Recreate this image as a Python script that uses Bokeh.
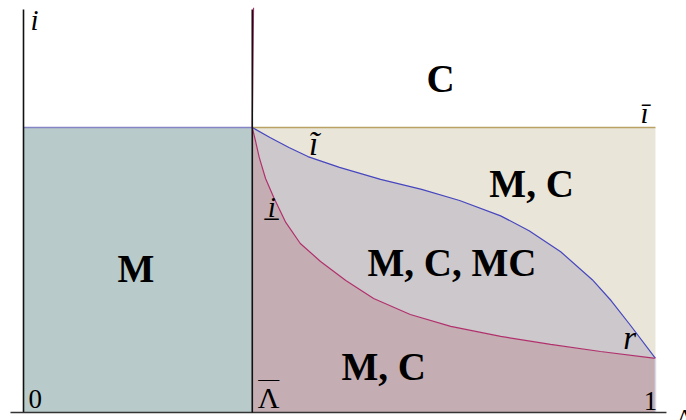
from bokeh.plotting import figure
from bokeh.models import Range1d
from bokeh.core.properties import value
from bokeh.embed import file_html
from bokeh.resources import INLINE

# Parameter space (Lambda, i)
lam_bar = 0.362      # threshold Lambda-bar
i_bar = 1.0          # upper bound i-bar
r_val = 0.19         # point r where both boundaries meet at Lambda = 1

# Upper boundary i-tilde(Lambda)
lam_tilde = [0.362, 0.39, 0.42, 0.45, 0.50, 0.565, 0.63, 0.69, 0.755,
             0.80, 0.85, 0.90, 0.93, 0.96, 1.0]
i_tilde = [1.0, 0.965, 0.93, 0.898, 0.86, 0.818, 0.783, 0.744, 0.690,
           0.638, 0.564, 0.466, 0.392, 0.307, 0.19]

# Lower boundary i-underbar(Lambda)
lam_under = [0.362, 0.367, 0.373, 0.383, 0.396, 0.415, 0.438, 0.47, 0.51,
             0.554, 0.612, 0.676, 0.755, 0.834, 0.913, 1.0]
i_under = [1.0, 0.954, 0.895, 0.821, 0.754, 0.667, 0.593, 0.530, 0.463,
           0.400, 0.344, 0.302, 0.267, 0.239, 0.214, 0.19]

SERIF = value("Liberation Serif")

p = figure(width=686, height=420, output_backend="svg", toolbar_location=None,
           x_range=Range1d(-0.0364, 1.0491), y_range=Range1d(-0.0281, 1.4456),
           min_border=0, min_border_left=0, min_border_right=0,
           min_border_top=0, min_border_bottom=0,
           x_axis_location=None, y_axis_location=None)
p.outline_line_color = None
p.xgrid.visible = False
p.ygrid.visible = False
p.background_fill_color = "white"

# Region M: Lambda < Lambda-bar, i < i-bar
p.quad(left=[0], right=[lam_bar], bottom=[0], top=[i_bar],
       fill_color="#b8caca", line_color=None)

# Region "M, C" (upper): between i-tilde and i-bar
p.patch(x=[lam_bar, 1.0] + lam_tilde[::-1],
        y=[i_bar, i_bar] + i_tilde[::-1],
        fill_color="#e9e5d8", line_color=None)

# Region "M, C, MC": between i-underbar and i-tilde
p.patch(x=lam_tilde + lam_under[::-1],
        y=i_tilde + i_under[::-1],
        fill_color="#cdc8cb", line_color=None)

# Region "M, C" (lower): below i-underbar
p.patch(x=lam_under + [1.0, lam_bar],
        y=i_under + [0, 0],
        fill_color="#c4aeb3", line_color=None)

# Boundaries
p.line([0, lam_bar], [i_bar, i_bar], line_color="#8585c6", line_width=1.6)
p.line([lam_bar, 1.0], [i_bar, i_bar], line_color="#b9a263", line_width=1.6)
p.line(lam_tilde, i_tilde, line_color="#4646bf", line_width=1.2)
p.line([lam_bar + 0.002] + lam_under, [1.42] + i_under,
       line_color="#b0306c", line_width=1.2)
p.line([1.0, 1.0], [0, r_val], line_color="#d9d9e8", line_width=1.5)

# Axes and the Lambda-bar divider
p.line([0, 0], [0, 1.414], line_color="#111111", line_width=1.6)
p.line([-0.0206, 1.0174], [0, 0], line_color="#333333", line_width=1.4)
p.line([lam_bar, lam_bar], [0, 1.414], line_color="#111111", line_width=1.6)

# Region labels
p.text(x=[0.66, 0.178, 0.804, 0.678, 0.57],
       y=[1.172, 0.505, 0.803, 0.528, 0.161],
       text=["C", "M", "M, C", "M, C, MC", "M, C"],
       text_font=SERIF, text_font_style="bold", text_font_size="39px",
       text_align="center", text_baseline="alphabetic", text_color="#000000")

# Axis name and boundary labels (italic)
p.text(x=[0.011, 0.9826, 0.393], y=[1.378, 1.050, 0.722],
       text=["i", "\u012b", "i\u0332"],
       text_font=SERIF, text_font_style="italic", text_font_size="29px",
       text_align=["left", "center", "center"],
       text_baseline="alphabetic", text_color="#000000")

# Curve and point labels (italic)
p.text(x=[0.459, 0.959], y=[0.941, 0.263],
       text=["\u0129", "r"],
       text_font=SERIF, text_font_style="italic", text_font_size="33px",
       text_align="center", text_baseline="alphabetic", text_color="#000000")

# Axis tick labels
p.text(x=[0.008, 0.992], y=[0.049, 0.042], text=["0", "1"],
       text_font=SERIF, text_font_size="27px",
       text_align=["left", "center"],
       text_baseline="alphabetic", text_color="#000000")
p.text(x=[0.388], y=[0.051], text=["\u039b"],
       text_font=SERIF, text_font_size="30px",
       text_align="center", text_baseline="alphabetic", text_color="#000000")
p.text(x=[0.388], y=[0.116], text=["\u2014"],
       text_font=SERIF, text_font_size="21px",
       text_align="center", text_baseline="alphabetic", text_color="#000000")
p.text(x=[1.033], y=[-0.017], text=["\u039b"],
       text_font=SERIF, text_font_size="24px",
       text_align="left", text_baseline="alphabetic", text_color="#000000")

open("out.html", "w").write(file_html(p, INLINE))
